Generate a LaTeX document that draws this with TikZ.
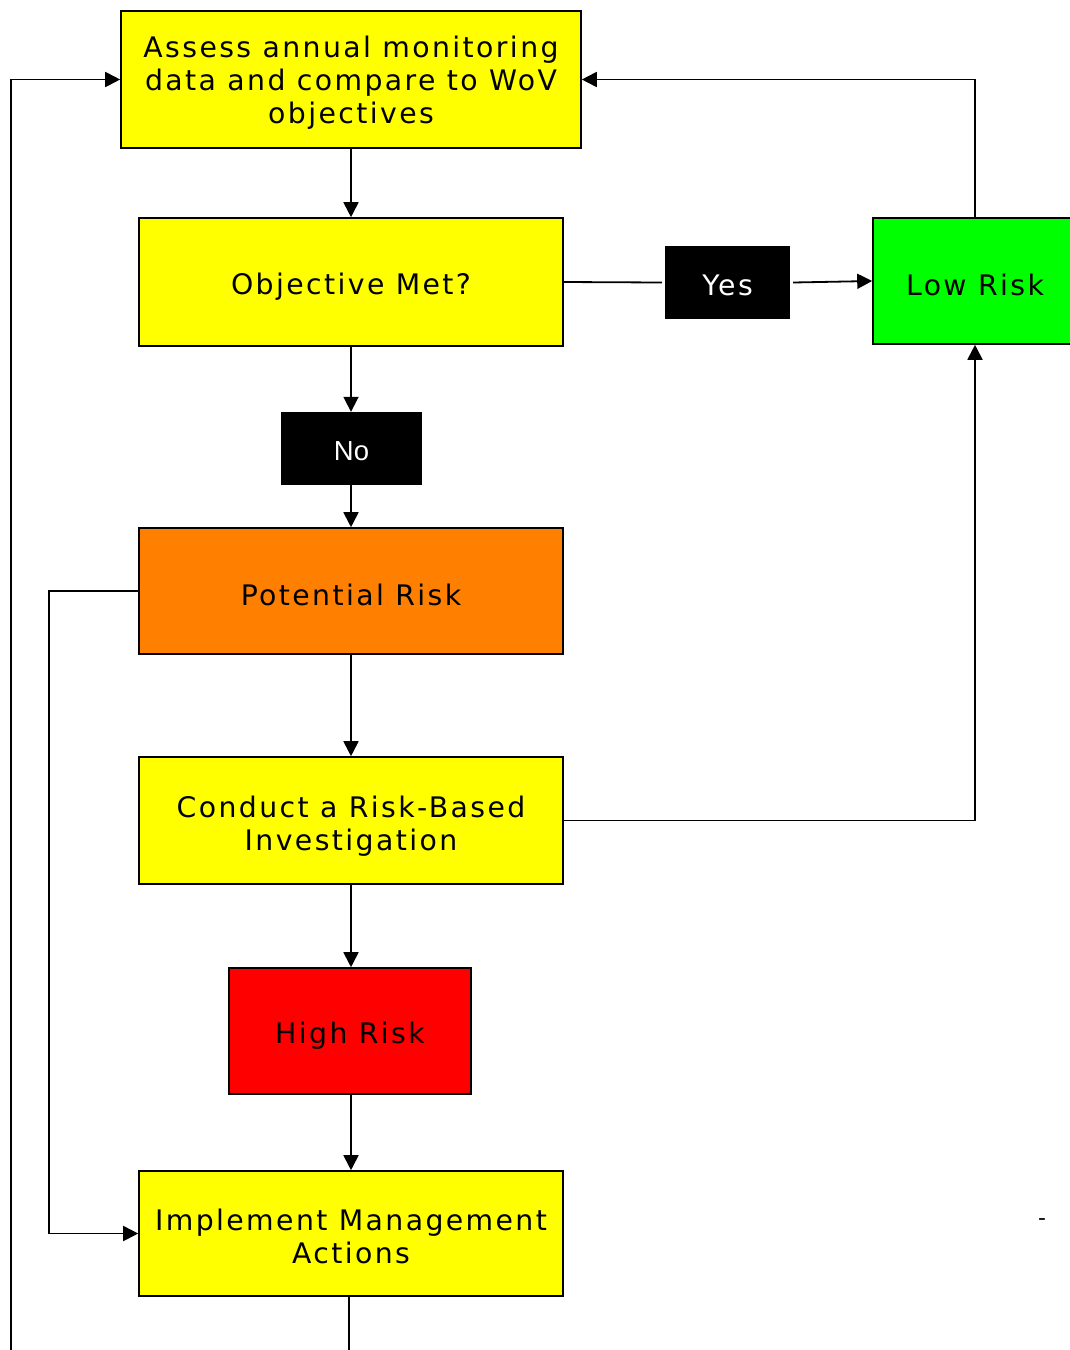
\documentclass[tikz,border=0pt]{standalone}
\usepackage{fontspec}
\setmainfont{DejaVu Sans}[LetterSpace=8.5]
\newfontfamily\nofont{Liberation Sans}
\usetikzlibrary{arrows.meta}
\definecolor{boxyellow}{HTML}{FFFF00}
\definecolor{boxgreen}{HTML}{00FF00}
\definecolor{boxorange}{HTML}{FF8000}
\definecolor{boxred}{HTML}{FF0000}
\tikzset{
  box/.style={draw=black, line width=1.6pt, inner sep=0pt},
  ybox/.style={box, fill=boxyellow},
  txt/.style={inner sep=0pt, align=center, text=black, font=\fontsize{28.3}{33}\selectfont},
  tagbox/.style={fill=black, inner sep=0pt},
  wtxt/.style={txt, text=white},
  conn/.style={draw=black, line width=1.8pt},
  arr/.style={conn, -{Triangle[length=15pt,width=15pt]}}
}
\begin{document}
\begin{tikzpicture}[x=1pt,y=-1pt]
\useasboundingbox (0,0) rectangle (1069,1350);
% boxes
\node[ybox, minimum width=460pt, minimum height=137pt] (assess) at (351,79.5) {};
\node[ybox, minimum width=424pt, minimum height=128pt] (objmet) at (351,282) {};
\node[tagbox, minimum width=125pt, minimum height=73pt] (yes) at (727.5,282.5) {};
\node[box, fill=boxgreen, minimum width=204pt, minimum height=126pt] (low) at (975,281) {};
\node[tagbox, minimum width=141pt, minimum height=73pt] (no) at (351.5,448.5) {};
\node[box, fill=boxorange, minimum width=424pt, minimum height=126pt] (pot) at (351,591) {};
\node[ybox, minimum width=424pt, minimum height=127pt] (cond) at (351,820.5) {};
\node[box, fill=boxred, minimum width=242pt, minimum height=126pt] (high) at (350,1031) {};
\node[ybox, minimum width=424pt, minimum height=125pt] (impl) at (351,1233.5) {};
% texts
\node[txt] (assess-t) at ([yshift=-3.5pt]assess.center) {Assess annual monitoring\\data and compare to WoV\\objectives};
\node[txt] (objmet-t) at ([yshift=-5pt]objmet.center) {Objective Met?};
\node[wtxt] (yes-t) at ([yshift=-3pt]yes.center) {Yes};
\node[txt] (low-t) at ([yshift=-4pt]low.center) {Low Risk};
\node[wtxt, font=\nofont\fontsize{27.5}{32}\selectfont] (no-t) at ([yshift=-3pt]no.center) {No};
\node[txt] (pot-t) at ([yshift=-4pt]pot.center) {Potential Risk};
\node[txt] (cond-t) at ([yshift=-6pt]cond.center) {Conduct a Risk-Based\\Investigation};
\node[txt] (high-t) at ([yshift=-5pt]high.center) {High Risk};
\node[txt] (impl-t) at ([yshift=-3pt]impl.center) {Implement Management\\Actions};
\node[txt, font=\fontsize{22}{24}\selectfont] (dash) at (1042,1222) {-};

\coordinate (leftloop) at (11,1360);
\coordinate (potleft) at (49,591);
\coordinate (implout) at (349,1360);

\draw[arr] (assess.south) -- (objmet.north);
\draw[conn] (objmet.east) -- ([xshift=-3pt]yes.west);
\draw[arr] ([xshift=3pt]yes.east) -- (low.west);
\draw[arr] (objmet.south) -- (no.north -| objmet.south);
\draw[arr] ([yshift=3pt]no.south -| pot.north) -- (pot.north);
\draw[arr] (pot.south) -- (cond.north);
\draw[arr] (cond.south) -- (cond.south |- high.north);
\draw[arr] (high.south -| impl.north) -- (impl.north);
\draw[arr] (cond.east) -- (cond.east -| low.south) -- (low.south);
\draw[arr] (low.north) -- (low.north |- assess.east) -- (assess.east);
\draw[arr] (pot.west) -- (potleft) -- (potleft |- impl.west) -- (impl.west);
\draw[arr] (leftloop) -- (leftloop |- assess.west) -- (assess.west);
\draw[conn] (impl.south -| implout) -- (implout);
\end{tikzpicture}
\end{document}
